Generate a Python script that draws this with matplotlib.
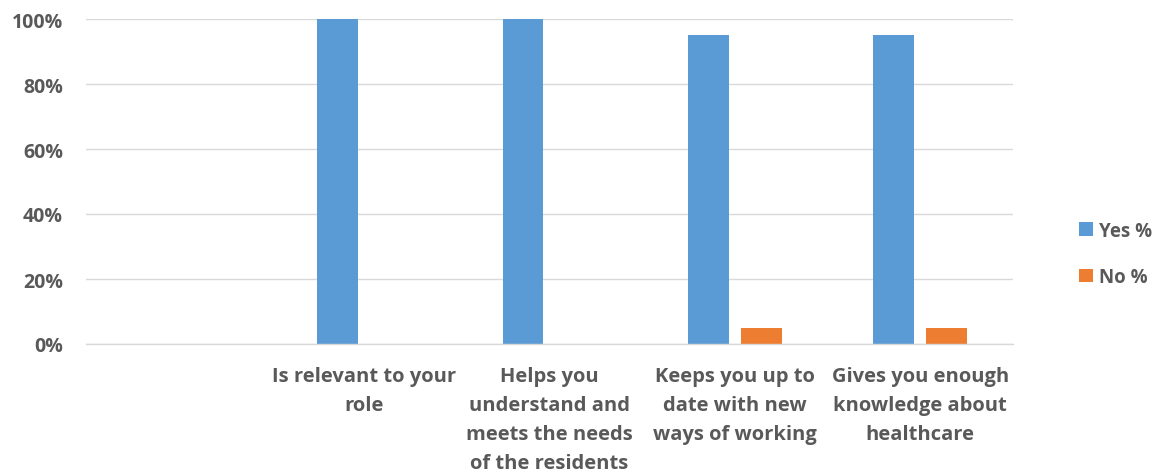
import matplotlib
matplotlib.use("Agg")
import matplotlib.pyplot as plt
import numpy as np
from matplotlib.patches import Patch

categories = ["", "Is relevant to your\nrole", "Helps you\nunderstand and\nmeets the needs\nof the residents",
              "Keeps you up to\ndate with new\nways of working", "Gives you enough\nknowledge about\nhealthcare"]
yes_pct = [np.nan, 100, 100, 95, 95]
no_pct = [np.nan, 0, 0, 5, 5]
series_names = ["Yes %", "No %"]
colors = ["#5B9BD5", "#ED7D31"]
text_color = "#595959"

plt.rcParams['font.family'] = ['Open Sans', 'DejaVu Sans']

W, H = 1164, 477
fig = plt.figure(figsize=(W/100, H/100), dpi=100)
ax = fig.add_axes([86/W, (H-345)/H, (1013-86)/W, (345-20)/H])

x = np.arange(len(categories))
width = 0.221
off = 0.143
ax.bar(x - off, yes_pct, width, color=colors[0], zorder=3)
ax.bar(x + off, no_pct, width, color=colors[1], zorder=3)

ax.set_xlim(-0.5, len(categories) - 0.5)
ax.set_ylim(0, 100)
ax.set_yticks(np.arange(0, 101, 20))
ax.set_yticklabels([f"{v}%" for v in range(0, 101, 20)], fontsize=14, fontweight='bold', color=text_color)
ax.set_xticks(x)
ax.set_xticklabels(categories, fontsize=14.5, fontweight='bold', color=text_color, linespacing=1.6, va='top')
ax.tick_params(axis='both', length=0)
ax.tick_params(axis='x', pad=16)
ax.tick_params(axis='y', pad=16.5)
ax.grid(axis='y', color='#D9D9D9', linewidth=1, zorder=0)
for s in ['top', 'right', 'left']:
    ax.spines[s].set_visible(False)
ax.spines['bottom'].set_color('#D9D9D9')
ax.spines['bottom'].set_linewidth(1)
ax.spines['bottom'].set_zorder(4)

handles = [Patch(facecolor=c, edgecolor='none') for c in colors]
fig.legend(handles, series_names, loc='center left', bbox_to_anchor=(1062/W, (H-255)/H),
           frameon=False, prop={'family': 'Open Sans', 'weight': 'bold', 'size': 13.5},
           labelcolor=text_color, handlelength=0.75, handleheight=0.75, handletextpad=0.3,
           labelspacing=1.4)

fig.savefig("out.png", dpi=100, facecolor='white')
